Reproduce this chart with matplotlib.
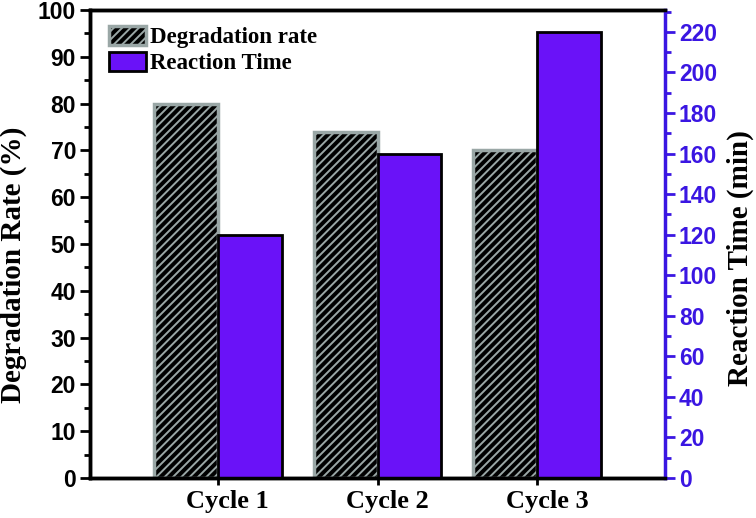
import numpy as np
import matplotlib.pyplot as plt
from matplotlib.ticker import MultipleLocator
import matplotlib.transforms as mtransforms

# data
cycles = ['Cycle 1', 'Cycle 2', 'Cycle 3']
degradation = [80, 74, 70]        # %
reaction_time = [120, 160, 220]   # min

purple = '#6A12F8'
axis_purple = '#3A16E2'
grey = '#9AA7A6'

plt.rcParams['hatch.linewidth'] = 1.4

fig = plt.figure(figsize=(7.56, 5.18), dpi=100)
ax = fig.add_axes([90 / 756, 40 / 518, 575 / 756, 468 / 518])
ax2 = ax.twinx()

x = np.arange(1, len(cycles) + 1)
w = 0.4

b1 = ax.bar(x - w / 2, degradation, w, color='black', edgecolor=grey,
            hatch='////', linewidth=2.5, label='Degradation rate', zorder=2)
b2 = ax2.bar(x + w / 2, reaction_time, w, color=purple, edgecolor='black',
             linewidth=2, label='Reaction Time', zorder=2)

ax.set_xlim(0.2, 3.8)
ax.set_ylim(0, 100)
ax2.set_ylim(0, 230.8)

ax.yaxis.set_major_locator(MultipleLocator(10))
ax.yaxis.set_minor_locator(MultipleLocator(5))
ax2.yaxis.set_major_locator(MultipleLocator(20))
ax2.yaxis.set_minor_locator(MultipleLocator(10))

ax.set_xticks(x)
ax.set_xticklabels([])
# category labels sit a little right of their ticks in the original
trans = mtransforms.blended_transform_factory(ax.transData, ax.transAxes)
trans = trans + mtransforms.ScaledTranslation(10 / 100, 0, fig.dpi_scale_trans)
for xi, name in zip(x, cycles):
    ax.text(xi, -0.025, name, transform=trans, ha='center', va='top',
            fontfamily='Liberation Serif', fontweight='bold', fontsize=19)

tick_font = dict(family='Liberation Sans', weight='bold', size=16.5)
for lab in ax.get_yticklabels():
    lab.set_fontproperties(tick_font)
for lab in ax2.get_yticklabels():
    lab.set_fontproperties(tick_font)
    lab.set_color(axis_purple)

ax.tick_params(axis='y', which='major', direction='out', length=7, width=2, pad=3)
ax.tick_params(axis='y', which='minor', direction='out', length=4, width=2)
ax.tick_params(axis='x', direction='out', length=5, width=2)
ax2.tick_params(axis='y', which='major', direction='out', length=7, width=2,
                color=axis_purple, labelcolor=axis_purple, pad=3)
ax2.tick_params(axis='y', which='minor', direction='out', length=4, width=2,
                color=axis_purple)

for s in ['left', 'bottom', 'top']:
    ax.spines[s].set_linewidth(2.5)
    ax2.spines[s].set_linewidth(2.5)
ax.spines['right'].set_visible(False)
ax2.spines['right'].set_color(axis_purple)
ax2.spines['right'].set_linewidth(2.5)

label_font = dict(family='Liberation Serif', weight='bold', size=21)
fig.text(13 / 756, 1 - 265 / 518, 'Degradation Rate (%)', rotation=90,
         ha='center', va='center', fontdict=label_font)
fig.text(740 / 756, 1 - 258 / 518, 'Reaction Time (min)', rotation=90,
         ha='center', va='center', fontdict=label_font)

ax2.legend([b1, b2], ['Degradation rate', 'Reaction Time'], loc='upper left',
           frameon=False, prop=dict(family='Liberation Serif', weight='bold', size=16.5),
           handlelength=1.6, handleheight=0.9, handletextpad=0.2, labelspacing=0.15,
           borderaxespad=0.3, bbox_to_anchor=(0.005, 1.0))

fig.savefig('out.png', dpi=100)
